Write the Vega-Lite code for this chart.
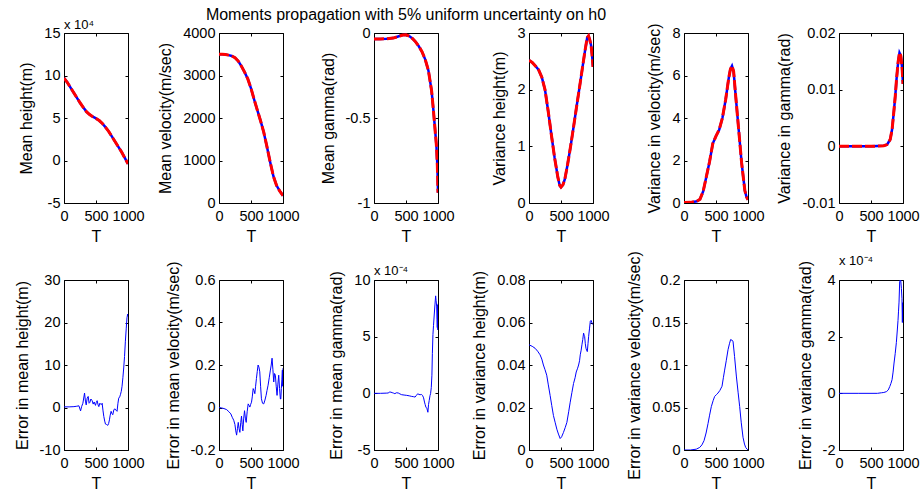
{
"$schema": "https://vega.github.io/schema/vega-lite/v6.json",
"background": "white",
"padding": {"left": 13, "top": 6, "right": 5, "bottom": 5},
"bounds": "flush",
"datasets": {
"p1": [{"t":0,"v":9.7},{"t":50,"v":9.2},{"t":100,"v":8.6},{"t":150,"v":8.0},{"t":200,"v":7.4},{"t":250,"v":6.8},{"t":300,"v":6.25},{"t":350,"v":5.75},{"t":400,"v":5.4},{"t":450,"v":5.15},{"t":500,"v":4.95},{"t":550,"v":4.7},{"t":600,"v":4.35},{"t":650,"v":3.9},{"t":700,"v":3.4},{"t":750,"v":2.8},{"t":800,"v":2.2},{"t":850,"v":1.6},{"t":900,"v":1.0},{"t":950,"v":0.3},{"t":1000,"v":-0.4}],
"p2": [{"t":0,"v":3500},{"t":50,"v":3500},{"t":100,"v":3495},{"t":150,"v":3480},{"t":200,"v":3460},{"t":250,"v":3420},{"t":300,"v":3340},{"t":350,"v":3220},{"t":400,"v":3080},{"t":450,"v":2920},{"t":500,"v":2700},{"t":550,"v":2430},{"t":600,"v":2180},{"t":650,"v":1930},{"t":700,"v":1660},{"t":750,"v":1320},{"t":800,"v":960},{"t":850,"v":630},{"t":900,"v":410},{"t":950,"v":280},{"t":1000,"v":170}],
"p3": [{"t":0,"v":-0.035},{"t":100,"v":-0.035},{"t":200,"v":-0.034},{"t":300,"v":-0.03},{"t":400,"v":-0.018},{"t":450,"v":-0.012},{"t":500,"v":-0.01},{"t":550,"v":-0.018},{"t":600,"v":-0.032},{"t":650,"v":-0.052},{"t":700,"v":-0.078},{"t":750,"v":-0.11},{"t":800,"v":-0.155},{"t":850,"v":-0.22},{"t":900,"v":-0.34},{"t":925,"v":-0.44},{"t":950,"v":-0.55},{"t":975,"v":-0.66},{"t":990,"v":-0.78},{"t":1000,"v":-0.94}],
"p4": [{"t":0,"v":2.52},{"t":50,"v":2.48},{"t":100,"v":2.42},{"t":150,"v":2.35},{"t":200,"v":2.22},{"t":250,"v":2.0},{"t":300,"v":1.62},{"t":350,"v":1.2},{"t":400,"v":0.8},{"t":450,"v":0.46},{"t":480,"v":0.31},{"t":500,"v":0.28},{"t":530,"v":0.32},{"t":560,"v":0.42},{"t":600,"v":0.66},{"t":650,"v":1.0},{"t":700,"v":1.37},{"t":750,"v":1.75},{"t":800,"v":2.12},{"t":850,"v":2.5},{"t":880,"v":2.72},{"t":910,"v":2.92},{"t":930,"v":2.95},{"t":950,"v":2.88},{"t":970,"v":2.78},{"t":985,"v":2.62},{"t":1000,"v":2.4}],
"p5": [{"t":0,"v":0.02},{"t":100,"v":0.03},{"t":200,"v":0.08},{"t":250,"v":0.18},{"t":300,"v":0.55},{"t":350,"v":1.25},{"t":400,"v":1.95},{"t":450,"v":2.8},{"t":500,"v":3.15},{"t":550,"v":3.45},{"t":600,"v":4.0},{"t":650,"v":4.85},{"t":700,"v":5.9},{"t":725,"v":6.3},{"t":750,"v":6.45},{"t":775,"v":6.2},{"t":800,"v":5.3},{"t":850,"v":3.6},{"t":900,"v":1.9},{"t":950,"v":0.6},{"t":975,"v":0.3},{"t":1000,"v":0.15}],
"p6": [{"t":0,"v":0},{"t":500,"v":0},{"t":700,"v":0.0001},{"t":750,"v":0.0003},{"t":800,"v":0.0012},{"t":830,"v":0.003},{"t":860,"v":0.0065},{"t":880,"v":0.009},{"t":900,"v":0.012},{"t":925,"v":0.015},{"t":945,"v":0.0165},{"t":965,"v":0.016},{"t":985,"v":0.014},{"t":1000,"v":0.011}],
"p7": [{"t":0,"v":0.15},{"t":80,"v":0.15},{"t":155,"v":0.2},{"t":200,"v":0.3},{"t":233,"v":0.4},{"t":259,"v":-0.8},{"t":275,"v":0.2},{"t":295,"v":1.0},{"t":321,"v":3.4},{"t":335,"v":1.5},{"t":347,"v":0.6},{"t":362,"v":2.2},{"t":378,"v":2.6},{"t":392,"v":1.0},{"t":404,"v":1.2},{"t":420,"v":2.0},{"t":440,"v":1.6},{"t":456,"v":0.8},{"t":471,"v":1.3},{"t":492,"v":0.5},{"t":505,"v":1.2},{"t":518,"v":1.6},{"t":533,"v":0.6},{"t":544,"v":0.2},{"t":560,"v":1.0},{"t":570,"v":0.8},{"t":585,"v":0.7},{"t":596,"v":1.0},{"t":610,"v":-0.8},{"t":622,"v":-2.1},{"t":636,"v":-3.2},{"t":648,"v":-3.9},{"t":665,"v":-4.0},{"t":684,"v":-4.2},{"t":697,"v":-3.8},{"t":710,"v":-2.9},{"t":722,"v":-1.8},{"t":736,"v":-0.9},{"t":748,"v":-1.4},{"t":762,"v":-1.7},{"t":778,"v":-0.6},{"t":793,"v":-0.3},{"t":810,"v":-0.6},{"t":829,"v":-0.9},{"t":843,"v":1.0},{"t":855,"v":2.2},{"t":870,"v":2.5},{"t":881,"v":3.0},{"t":895,"v":3.8},{"t":907,"v":5.0},{"t":920,"v":7.0},{"t":933,"v":9.3},{"t":946,"v":12.0},{"t":959,"v":15.6},{"t":972,"v":18.5},{"t":984,"v":21.1},{"t":995,"v":22.0},{"t":1000,"v":21.5}],
"p8": [{"t":0,"v":0},{"t":40,"v":-0.002},{"t":78,"v":-0.005},{"t":120,"v":-0.01},{"t":155,"v":-0.02},{"t":185,"v":-0.03},{"t":207,"v":-0.046},{"t":230,"v":-0.06},{"t":249,"v":-0.08},{"t":262,"v":-0.11},{"t":275,"v":-0.13},{"t":288,"v":-0.1},{"t":301,"v":-0.07},{"t":314,"v":-0.1},{"t":326,"v":-0.117},{"t":340,"v":-0.07},{"t":352,"v":-0.04},{"t":362,"v":-0.08},{"t":373,"v":-0.11},{"t":386,"v":-0.05},{"t":399,"v":-0.015},{"t":412,"v":-0.05},{"t":425,"v":-0.07},{"t":440,"v":-0.02},{"t":456,"v":0.017},{"t":470,"v":0.01},{"t":482,"v":0.002},{"t":495,"v":0.015},{"t":508,"v":0.025},{"t":520,"v":0.05},{"t":534,"v":0.089},{"t":547,"v":0.08},{"t":560,"v":0.065},{"t":572,"v":0.1},{"t":585,"v":0.137},{"t":598,"v":0.17},{"t":611,"v":0.2},{"t":624,"v":0.19},{"t":637,"v":0.168},{"t":650,"v":0.1},{"t":663,"v":0.041},{"t":680,"v":0.02},{"t":699,"v":0.017},{"t":718,"v":0.035},{"t":736,"v":0.057},{"t":750,"v":0.08},{"t":767,"v":0.105},{"t":785,"v":0.14},{"t":803,"v":0.176},{"t":816,"v":0.2},{"t":829,"v":0.232},{"t":842,"v":0.18},{"t":855,"v":0.12},{"t":868,"v":0.16},{"t":881,"v":0.152},{"t":894,"v":0.1},{"t":907,"v":0.057},{"t":920,"v":0.11},{"t":933,"v":0.152},{"t":946,"v":0.09},{"t":959,"v":0.04},{"t":966,"v":0.04},{"t":974,"v":0.089},{"t":982,"v":0.13},{"t":990,"v":0.176},{"t":995,"v":0.1},{"t":1000,"v":0.185}],
"p9": [{"t":0,"v":0},{"t":100,"v":0},{"t":200,"v":0.02},{"t":221,"v":0.03},{"t":247,"v":0.12},{"t":265,"v":0.1},{"t":284,"v":0.06},{"t":305,"v":0.02},{"t":326,"v":-0.03},{"t":350,"v":0.05},{"t":379,"v":0.03},{"t":405,"v":-0.05},{"t":432,"v":-0.12},{"t":470,"v":-0.15},{"t":511,"v":-0.18},{"t":550,"v":-0.22},{"t":589,"v":-0.27},{"t":620,"v":-0.3},{"t":642,"v":-0.33},{"t":660,"v":-0.2},{"t":684,"v":-0.03},{"t":700,"v":-0.1},{"t":721,"v":-0.12},{"t":740,"v":-0.1},{"t":758,"v":-0.18},{"t":775,"v":-0.4},{"t":789,"v":-0.77},{"t":800,"v":-1.0},{"t":811,"v":-1.22},{"t":825,"v":-1.3},{"t":842,"v":-1.67},{"t":852,"v":-1.0},{"t":863,"v":-0.62},{"t":875,"v":-0.2},{"t":884,"v":-0.03},{"t":895,"v":0.5},{"t":905,"v":1.6},{"t":912,"v":3.5},{"t":921,"v":5.2},{"t":930,"v":6.0},{"t":942,"v":7.0},{"t":952,"v":7.8},{"t":963,"v":8.6},{"t":970,"v":8.2},{"t":979,"v":7.7},{"t":985,"v":6.5},{"t":989,"v":5.8},{"t":993,"v":7.8},{"t":997,"v":5.6},{"t":1000,"v":7.9}],
"p10": [{"t":0,"v":0.0495},{"t":50,"v":0.0488},{"t":94,"v":0.0479},{"t":135,"v":0.0465},{"t":173,"v":0.0448},{"t":200,"v":0.0428},{"t":225,"v":0.04},{"t":250,"v":0.0378},{"t":277,"v":0.0352},{"t":300,"v":0.031},{"t":330,"v":0.0257},{"t":355,"v":0.021},{"t":382,"v":0.0162},{"t":410,"v":0.0128},{"t":435,"v":0.0098},{"t":460,"v":0.0075},{"t":487,"v":0.0054},{"t":510,"v":0.0062},{"t":539,"v":0.0083},{"t":565,"v":0.0105},{"t":592,"v":0.013},{"t":620,"v":0.018},{"t":644,"v":0.0225},{"t":670,"v":0.027},{"t":696,"v":0.0313},{"t":720,"v":0.034},{"t":738,"v":0.0367},{"t":760,"v":0.0385},{"t":775,"v":0.04},{"t":790,"v":0.042},{"t":801,"v":0.0448},{"t":815,"v":0.047},{"t":827,"v":0.0495},{"t":840,"v":0.052},{"t":853,"v":0.055},{"t":862,"v":0.054},{"t":869,"v":0.0535},{"t":880,"v":0.05},{"t":890,"v":0.0479},{"t":900,"v":0.047},{"t":911,"v":0.0463},{"t":922,"v":0.05},{"t":932,"v":0.0535},{"t":945,"v":0.057},{"t":958,"v":0.0606},{"t":970,"v":0.061},{"t":984,"v":0.0598},{"t":992,"v":0.0595},{"t":1000,"v":0.059}],
"p11": [{"t":0,"v":0},{"t":100,"v":0},{"t":193,"v":0.001},{"t":245,"v":0.003},{"t":280,"v":0.006},{"t":313,"v":0.011},{"t":345,"v":0.02},{"t":375,"v":0.031},{"t":400,"v":0.041},{"t":427,"v":0.051},{"t":455,"v":0.058},{"t":479,"v":0.063},{"t":505,"v":0.065},{"t":531,"v":0.067},{"t":560,"v":0.07},{"t":594,"v":0.075},{"t":615,"v":0.085},{"t":635,"v":0.094},{"t":660,"v":0.105},{"t":688,"v":0.118},{"t":710,"v":0.125},{"t":729,"v":0.13},{"t":750,"v":0.129},{"t":766,"v":0.128},{"t":790,"v":0.11},{"t":818,"v":0.087},{"t":845,"v":0.068},{"t":870,"v":0.051},{"t":895,"v":0.032},{"t":922,"v":0.015},{"t":945,"v":0.007},{"t":964,"v":0.003},{"t":985,"v":0.001},{"t":1000,"v":0}],
"p12": [{"t":0,"v":0},{"t":300,"v":0},{"t":600,"v":0},{"t":663,"v":0.02},{"t":700,"v":0.03},{"t":741,"v":0.06},{"t":770,"v":0.12},{"t":793,"v":0.24},{"t":810,"v":0.34},{"t":829,"v":0.48},{"t":845,"v":0.75},{"t":860,"v":1.07},{"t":878,"v":1.4},{"t":896,"v":1.79},{"t":910,"v":2.2},{"t":922,"v":2.57},{"t":930,"v":2.9},{"t":938,"v":3.22},{"t":948,"v":3.94},{"t":956,"v":4.0},{"t":964,"v":4.0},{"t":975,"v":3.7},{"t":984,"v":3.34},{"t":990,"v":2.5},{"t":995,"v":3.2},{"t":1000,"v":2.6}]
},
"columns": 6,
"spacing": {"row": 77, "column": 91},
"concat": [
{"width":64,"height":170,"data":{"name":"p1"},
 "title":{"text":"x 10⁴","anchor":"start","frame":"group","fontSize":13,"offset":-7},
 "layer":[
  {"mark":{"type":"line","color":"#0000ff","strokeWidth":2.5,"clip":true},"encoding":{"x":{"field":"t","type":"quantitative","scale":{"domain":[0,1000],"nice":false,"zero":false},"axis":{"values":[0,500,1000],"title":"T"}},"y":{"field":"v","type":"quantitative","scale":{"domain":[-5,15],"nice":false,"zero":false},"axis":{"values":[-5,0,5,10,15],"title":"Mean height(m)"}}}},
  {"mark":{"type":"line","color":"#ff0000","strokeWidth":3,"strokeDash":[10,3],"clip":true},"encoding":{"x":{"field":"t","type":"quantitative","axis":{"orient":"top","values":[0,500,1000],"labels":false,"title":null}},"y":{"field":"v","type":"quantitative","axis":{"orient":"right","values":[-5,0,5,10,15],"labels":false,"title":null}}}}
 ],"resolve":{"axis":{"x":"independent","y":"independent"}}},
{"width":64,"height":170,"data":{"name":"p2"},
 "layer":[
  {"mark":{"type":"line","color":"#0000ff","strokeWidth":2.5,"clip":true},"encoding":{"x":{"field":"t","type":"quantitative","scale":{"domain":[0,1000],"nice":false,"zero":false},"axis":{"values":[0,500,1000],"title":"T"}},"y":{"field":"v","type":"quantitative","scale":{"domain":[0,4000],"nice":false,"zero":false},"axis":{"values":[0,1000,2000,3000,4000],"title":"Mean velocity(m/sec)"}}}},
  {"mark":{"type":"line","color":"#ff0000","strokeWidth":3,"strokeDash":[10,3],"clip":true},"encoding":{"x":{"field":"t","type":"quantitative","axis":{"orient":"top","values":[0,500,1000],"labels":false,"title":null}},"y":{"field":"v","type":"quantitative","axis":{"orient":"right","values":[0,1000,2000,3000,4000],"labels":false,"title":null}}}}
 ],"resolve":{"axis":{"x":"independent","y":"independent"}}},
{"width":64,"height":170,"data":{"name":"p3"},
 "title":{"text":"Moments propagation with 5% uniform uncertainty on h0","anchor":"middle","frame":"group","fontSize":16,"offset":2},
 "layer":[
  {"mark":{"type":"line","color":"#0000ff","strokeWidth":2.5,"clip":true},"encoding":{"x":{"field":"t","type":"quantitative","scale":{"domain":[0,1000],"nice":false,"zero":false},"axis":{"values":[0,500,1000],"title":"T"}},"y":{"field":"v","type":"quantitative","scale":{"domain":[-1,0],"nice":false,"zero":false},"axis":{"values":[-1,-0.5,0],"title":"Mean gamma(rad)"}}}},
  {"mark":{"type":"line","color":"#ff0000","strokeWidth":3,"strokeDash":[10,3],"clip":true},"encoding":{"x":{"field":"t","type":"quantitative","axis":{"orient":"top","values":[0,500,1000],"labels":false,"title":null}},"y":{"field":"v","type":"quantitative","axis":{"orient":"right","values":[-1,-0.5,0],"labels":false,"title":null}}}}
 ],"resolve":{"axis":{"x":"independent","y":"independent"}}},
{"width":64,"height":170,"data":{"name":"p4"},
 "layer":[
  {"mark":{"type":"line","color":"#0000ff","strokeWidth":2.5,"clip":true},"encoding":{"x":{"field":"t","type":"quantitative","scale":{"domain":[0,1000],"nice":false,"zero":false},"axis":{"values":[0,500,1000],"title":"T"}},"y":{"field":"v","type":"quantitative","scale":{"domain":[0,3],"nice":false,"zero":false},"axis":{"values":[0,1,2,3],"title":"Variance height(m)"}}}},
  {"mark":{"type":"line","color":"#ff0000","strokeWidth":3,"strokeDash":[10,3],"clip":true},"encoding":{"x":{"field":"t","type":"quantitative","axis":{"orient":"top","values":[0,500,1000],"labels":false,"title":null}},"y":{"field":"v","type":"quantitative","axis":{"orient":"right","values":[0,1,2,3],"labels":false,"title":null}}}}
 ],"resolve":{"axis":{"x":"independent","y":"independent"}}},
{"width":64,"height":170,"data":{"name":"p5"},
 "layer":[
  {"mark":{"type":"line","color":"#0000ff","strokeWidth":2.5,"clip":true},"encoding":{"x":{"field":"t","type":"quantitative","scale":{"domain":[0,1000],"nice":false,"zero":false},"axis":{"values":[0,500,1000],"title":"T"}},"y":{"field":"v","type":"quantitative","scale":{"domain":[0,8],"nice":false,"zero":false},"axis":{"values":[0,2,4,6,8],"title":"Variance in velocity(m/sec)"}}}},
  {"mark":{"type":"line","color":"#ff0000","strokeWidth":3,"strokeDash":[10,3],"clip":true},"encoding":{"x":{"field":"t","type":"quantitative","axis":{"orient":"top","values":[0,500,1000],"labels":false,"title":null}},"y":{"field":"v","type":"quantitative","axis":{"orient":"right","values":[0,2,4,6,8],"labels":false,"title":null}}}}
 ],"resolve":{"axis":{"x":"independent","y":"independent"}}},
{"width":64,"height":170,"data":{"name":"p6"},
 "layer":[
  {"mark":{"type":"line","color":"#0000ff","strokeWidth":2.5,"clip":true},"encoding":{"x":{"field":"t","type":"quantitative","scale":{"domain":[0,1000],"nice":false,"zero":false},"axis":{"values":[0,500,1000],"title":"T"}},"y":{"field":"v","type":"quantitative","scale":{"domain":[-0.01,0.02],"nice":false,"zero":false},"axis":{"values":[-0.01,0,0.01,0.02],"title":"Variance in gamma(rad)"}}}},
  {"mark":{"type":"line","color":"#ff0000","strokeWidth":3,"strokeDash":[10,3],"clip":true},"encoding":{"x":{"field":"t","type":"quantitative","axis":{"orient":"top","values":[0,500,1000],"labels":false,"title":null}},"y":{"field":"v","type":"quantitative","axis":{"orient":"right","values":[-0.01,0,0.01,0.02],"labels":false,"title":null}}}}
 ],"resolve":{"axis":{"x":"independent","y":"independent"}}},
{"width":64,"height":170,"data":{"name":"p7"},
 "layer":[
  {"mark":{"type":"line","color":"#0000ff","strokeWidth":1,"clip":true},"encoding":{"x":{"field":"t","type":"quantitative","scale":{"domain":[0,1000],"nice":false,"zero":false},"axis":{"values":[0,500,1000],"title":"T"}},"y":{"field":"v","type":"quantitative","scale":{"domain":[-10,30],"nice":false,"zero":false},"axis":{"values":[-10,0,10,20,30],"title":"Error in mean height(m)"}}}},
  {"mark":{"type":"line","strokeOpacity":0,"clip":true},"encoding":{"x":{"field":"t","type":"quantitative","axis":{"orient":"top","values":[0,500,1000],"labels":false,"title":null}},"y":{"field":"v","type":"quantitative","axis":{"orient":"right","values":[-10,0,10,20,30],"labels":false,"title":null}}}}
 ],"resolve":{"axis":{"x":"independent","y":"independent"}}},
{"width":64,"height":170,"data":{"name":"p8"},
 "layer":[
  {"mark":{"type":"line","color":"#0000ff","strokeWidth":1,"clip":true},"encoding":{"x":{"field":"t","type":"quantitative","scale":{"domain":[0,1000],"nice":false,"zero":false},"axis":{"values":[0,500,1000],"title":"T"}},"y":{"field":"v","type":"quantitative","scale":{"domain":[-0.2,0.6],"nice":false,"zero":false},"axis":{"values":[-0.2,0,0.2,0.4,0.6],"title":"Error in mean velocity(m/sec)"}}}},
  {"mark":{"type":"line","strokeOpacity":0,"clip":true},"encoding":{"x":{"field":"t","type":"quantitative","axis":{"orient":"top","values":[0,500,1000],"labels":false,"title":null}},"y":{"field":"v","type":"quantitative","axis":{"orient":"right","values":[-0.2,0,0.2,0.4,0.6],"labels":false,"title":null}}}}
 ],"resolve":{"axis":{"x":"independent","y":"independent"}}},
{"width":64,"height":170,"data":{"name":"p9"},
 "title":{"text":"x 10⁻⁴","anchor":"start","frame":"group","fontSize":13,"offset":-7},
 "layer":[
  {"mark":{"type":"line","color":"#0000ff","strokeWidth":1,"clip":true},"encoding":{"x":{"field":"t","type":"quantitative","scale":{"domain":[0,1000],"nice":false,"zero":false},"axis":{"values":[0,500,1000],"title":"T"}},"y":{"field":"v","type":"quantitative","scale":{"domain":[-5,10],"nice":false,"zero":false},"axis":{"values":[-5,0,5,10],"title":"Error in mean gamma(rad)"}}}},
  {"mark":{"type":"line","strokeOpacity":0,"clip":true},"encoding":{"x":{"field":"t","type":"quantitative","axis":{"orient":"top","values":[0,500,1000],"labels":false,"title":null}},"y":{"field":"v","type":"quantitative","axis":{"orient":"right","values":[-5,0,5,10],"labels":false,"title":null}}}}
 ],"resolve":{"axis":{"x":"independent","y":"independent"}}},
{"width":64,"height":170,"data":{"name":"p10"},
 "layer":[
  {"mark":{"type":"line","color":"#0000ff","strokeWidth":1,"clip":true},"encoding":{"x":{"field":"t","type":"quantitative","scale":{"domain":[0,1000],"nice":false,"zero":false},"axis":{"values":[0,500,1000],"title":"T"}},"y":{"field":"v","type":"quantitative","scale":{"domain":[0,0.08],"nice":false,"zero":false},"axis":{"values":[0,0.02,0.04,0.06,0.08],"title":"Error in variance height(m)"}}}},
  {"mark":{"type":"line","strokeOpacity":0,"clip":true},"encoding":{"x":{"field":"t","type":"quantitative","axis":{"orient":"top","values":[0,500,1000],"labels":false,"title":null}},"y":{"field":"v","type":"quantitative","axis":{"orient":"right","values":[0,0.02,0.04,0.06,0.08],"labels":false,"title":null}}}}
 ],"resolve":{"axis":{"x":"independent","y":"independent"}}},
{"width":64,"height":170,"data":{"name":"p11"},
 "layer":[
  {"mark":{"type":"line","color":"#0000ff","strokeWidth":1,"clip":true},"encoding":{"x":{"field":"t","type":"quantitative","scale":{"domain":[0,1000],"nice":false,"zero":false},"axis":{"values":[0,500,1000],"title":"T"}},"y":{"field":"v","type":"quantitative","scale":{"domain":[0,0.2],"nice":false,"zero":false},"axis":{"values":[0,0.05,0.1,0.15,0.2],"title":"Error in variance velocity(m/sec)"}}}},
  {"mark":{"type":"line","strokeOpacity":0,"clip":true},"encoding":{"x":{"field":"t","type":"quantitative","axis":{"orient":"top","values":[0,500,1000],"labels":false,"title":null}},"y":{"field":"v","type":"quantitative","axis":{"orient":"right","values":[0,0.05,0.1,0.15,0.2],"labels":false,"title":null}}}}
 ],"resolve":{"axis":{"x":"independent","y":"independent"}}},
{"width":64,"height":170,"data":{"name":"p12"},
 "title":{"text":"x 10⁻⁴","anchor":"start","frame":"group","fontSize":13,"offset":-7},
 "layer":[
  {"mark":{"type":"line","color":"#0000ff","strokeWidth":1,"clip":true},"encoding":{"x":{"field":"t","type":"quantitative","scale":{"domain":[0,1000],"nice":false,"zero":false},"axis":{"values":[0,500,1000],"title":"T"}},"y":{"field":"v","type":"quantitative","scale":{"domain":[-2,4],"nice":false,"zero":false},"axis":{"values":[-2,0,2,4],"title":"Error in variance gamma(rad)"}}}},
  {"mark":{"type":"line","strokeOpacity":0,"clip":true},"encoding":{"x":{"field":"t","type":"quantitative","axis":{"orient":"top","values":[0,500,1000],"labels":false,"title":null}},"y":{"field":"v","type":"quantitative","axis":{"orient":"right","values":[-2,0,2,4],"labels":false,"title":null}}}}
 ],"resolve":{"axis":{"x":"independent","y":"independent"}}}
],
"config": {
 "locale": {"number": {"decimal": ".", "thousands": "", "grouping": [3], "currency": ["", ""], "minus": "-"}},
 "font": "Liberation Sans",
 "view": {"stroke": "#000", "strokeWidth": 1},
 "axis": {"grid": false, "domain": false, "tickColor": "#000", "tickSize": -3, "labelFontSize": 14.5, "labelColor": "#000", "labelFont": "Liberation Sans", "labelOverlap": false, "labelFlush": false, "labelBound": false, "titleFontSize": 16, "titleFontWeight": "normal", "titleColor": "#000", "titleFont": "Liberation Sans", "format": "~f"},
 "axisX": {"labelPadding": 9, "titlePadding": 6},
 "axisY": {"labelPadding": 7, "titlePadding": 9},
 "title": {"fontWeight": "normal", "color": "#000", "font": "Liberation Sans"}
}
}
